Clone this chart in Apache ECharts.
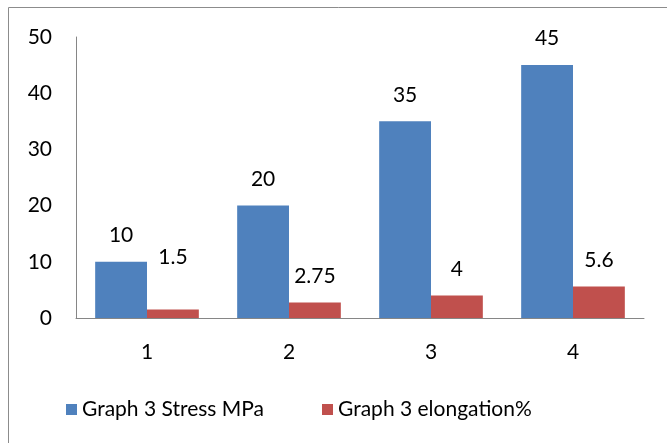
<!DOCTYPE html>
<html>
<head>
<meta charset="utf-8">
<script src="https://cdn.jsdelivr.net/npm/echarts@6/dist/echarts.min.js"></script>
<style>
  html, body { margin: 0; padding: 0; background: #fff; }
  #chart { width: 667px; height: 443px; }
</style>
</head>
<body>
<div id="chart"></div>
<script>
const categories = ['1', '2', '3', '4']
const stress = [10, 20, 35, 45]
const elongation = [1.5, 2.75, 4, 5.6]
const seriesNames = ['Graph 3 Stress MPa', 'Graph 3 elongation%']

const font = 'Lato, "Open Sans", sans-serif'
const chart = echarts.init(document.getElementById('chart'))

chart.setOption({
  animation: false,
  textStyle: { fontFamily: font },
  graphic: [{
    type: 'rect',
    shape: { x: 8.5, y: 7.5, width: 700, height: 460 },
    style: { fill: 'none', stroke: '#8c8c8c', lineWidth: 1 }
  }],
  grid: { left: 76, right: 23, top: 37, bottom: 125 },
  legend: {
    bottom: 18,
    left: 61,
    itemWidth: 11,
    itemHeight: 11,
    itemGap: 58,
    icon: 'rect',
    textStyle: { fontSize: 21, color: '#000', fontFamily: font },
    data: seriesNames
  },
  xAxis: {
    type: 'category',
    data: categories,
    axisLine: { lineStyle: { color: '#868686' } },
    axisTick: { show: false },
    axisLabel: { fontSize: 21, color: '#000', margin: 24 }
  },
  yAxis: {
    type: 'value',
    min: 0,
    max: 50,
    interval: 10,
    splitLine: { show: false },
    axisLine: { show: true, lineStyle: { color: '#868686' } },
    axisTick: { show: false },
    axisLabel: { fontSize: 21, color: '#000', margin: 24 }
  },
  series: [
    {
      name: seriesNames[0],
      type: 'bar',
      data: stress,
      barGap: '0%',
      barCategoryGap: '27%',
      itemStyle: { color: '#4f81bd' },
      label: { show: true, position: 'top', distance: 16, fontSize: 21, color: '#000' }
    },
    {
      name: seriesNames[1],
      type: 'bar',
      data: elongation,
      itemStyle: { color: '#c0504d' },
      label: { show: true, position: 'top', distance: 16, fontSize: 21, color: '#000' },
      labelLayout: function (p) {
        return p.dataIndex === 0 ? { dy: -26 } : {}
      }
    }
  ]
})
</script>
</body>
</html>
